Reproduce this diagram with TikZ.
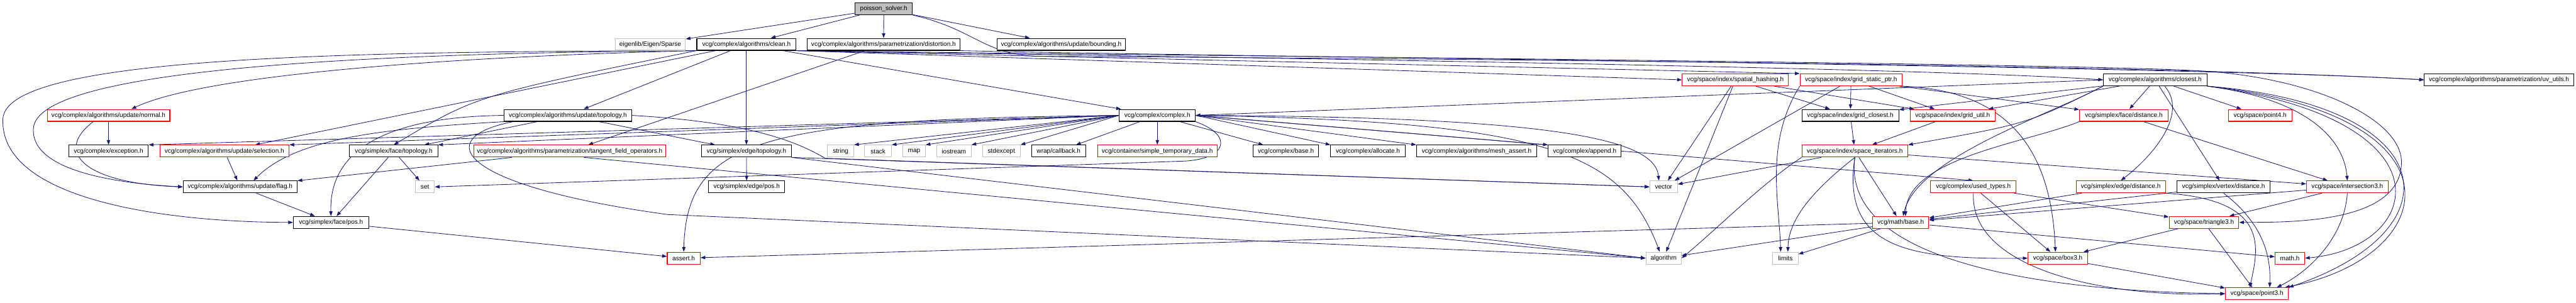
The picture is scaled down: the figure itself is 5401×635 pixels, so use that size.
\documentclass[tikz,border=0pt]{standalone}
\usepackage{fontspec}
\setmainfont{Liberation Sans}
\usetikzlibrary{arrows.meta,backgrounds}

\begin{document}
\begin{tikzpicture}[x=1pt,y=-1pt,
  file/.style={draw=black,line width=1.4pt,fill=white,minimum height=25pt,inner sep=0pt,font=\fontsize{13.3}{16}\selectfont},
  trunc/.style={file,draw=truncred},
  sys/.style={file,draw=sysgray},
  root/.style={file,fill=sysgray},
  dep/.style={draw=edgeblue,line width=1.1pt,-{Triangle[length=10pt,width=7pt]}}]

% Define colors
\definecolor{edgeblue}{HTML}{191970}
\definecolor{truncred}{HTML}{FF0000}
\definecolor{sysgray}{HTML}{BFBFBF}

\useasboundingbox (0,0) rectangle (5401,635);

% Draw the files, row by row
\node[root,minimum width=120pt] (P) at (1853,18.5) {poisson\_solver.h};

\node[sys,minimum width=147pt] (SP) at (1363.5,93) {eigenlib/Eigen/Sparse};
\node[file,minimum width=208pt] (CL) at (1565,93) {vcg/complex/algorithms/clean.h};
\node[file,minimum width=321pt] (DI) at (1852.5,93) {vcg/complex/algorithms/parametrization/distortion.h};
\node[file,minimum width=270pt] (BO) at (2225,93) {vcg/complex/algorithms/update/bounding.h};

\node[trunc,minimum width=223pt] (SH) at (3638.5,167.5) {vcg/space/index/spatial\_hashing.h};
\node[trunc,minimum width=214pt] (GS) at (3881,167.5) {vcg/space/index/grid\_static\_ptr.h};
\node[file,minimum width=217pt] (CO) at (4518.5,167.5) {vcg/complex/algorithms/closest.h};
\node[file,minimum width=313pt] (UV) at (5239.5,167.5) {vcg/complex/algorithms/parametrization/uv\_utils.h};

\node[trunc,minimum width=257pt] (NO) at (227.5,242) {vcg/complex/algorithms/update/normal.h};
\node[file,minimum width=267pt] (UT) at (1190.5,242) {vcg/complex/algorithms/update/topology.h};
\node[file,minimum width=159pt] (CX) at (2426.5,242) {vcg/complex/complex.h};
\node[file,minimum width=203pt] (GC) at (3879.5,242) {vcg/space/index/grid\_closest.h};
\node[trunc,minimum width=178pt] (GU) at (4094,242) {vcg/space/index/grid\_util.h};
\node[trunc,minimum width=186pt] (FD) at (4453,242) {vcg/simplex/face/distance.h};
\node[trunc,minimum width=133pt] (P4) at (4738.5,242) {vcg/space/point4.h};

\node[file,minimum width=167pt] (EX) at (227.5,317) {vcg/complex/exception.h};
\node[trunc,minimum width=271pt] (SE) at (470.5,317) {vcg/complex/algorithms/update/selection.h};
\node[file,minimum width=185pt] (FT) at (825.5,317) {vcg/simplex/face/topology.h};
\node[trunc,minimum width=403pt] (TF) at (1194.5,317) {vcg/complex/algorithms/parametrization/tangent\_field\_operators.h};
\node[file,minimum width=188pt] (ET) at (1565,317) {vcg/simplex/edge/topology.h};
\node[sys,minimum width=55pt] (STR) at (1762.5,317) {string};
\node[sys,minimum width=56pt] (STK) at (1841,317) {stack};
\node[sys,minimum width=47pt] (MAP) at (1916.5,317) {map};
\node[sys,minimum width=72pt] (IOS) at (2000,317) {iostream};
\node[sys,minimum width=79pt] (SEX) at (2099.5,317) {stdexcept};
\node[file,minimum width=113pt] (CB) at (2219.5,317) {wrap/callback.h};
\node[trunc,minimum width=251pt] (STD) at (2426.5,317) {vcg/container/simple\_temporary\_data.h};
\node[file,minimum width=138pt] (CB2) at (2696,317) {vcg/complex/base.h};
\node[file,minimum width=156pt] (AL) at (2868,317) {vcg/complex/allocate.h};
\node[file,minimum width=252pt] (MA) at (3096,317) {vcg/complex/algorithms/mesh\_assert.h};
\node[file,minimum width=153pt] (AP) at (3322.5,317) {vcg/complex/append.h};
\node[trunc,minimum width=222pt] (SI) at (3889,317) {vcg/space/index/space\_iterators.h};

\node[file,minimum width=239pt] (FL) at (503.5,392) {vcg/complex/algorithms/update/flag.h};
\node[sys,minimum width=40pt] (SET) at (891,392) {set};
\node[file,minimum width=159pt] (EP) at (1565.5,392) {vcg/simplex/edge/pos.h};
\node[sys,minimum width=58pt] (VEC) at (3488,392) {vector};
\node[trunc,minimum width=179pt] (UTY) at (4137.5,392) {vcg/complex/used\_types.h};
\node[trunc,minimum width=187pt] (ED) at (4446.5,392) {vcg/simplex/edge/distance.h};
\node[file,minimum width=196pt] (VD) at (4662,392) {vcg/simplex/vertex/distance.h};
\node[trunc,minimum width=171pt] (IN) at (4921.5,392) {vcg/space/intersection3.h};

\node[file,minimum width=158pt] (FP) at (694,466.5) {vcg/simplex/face/pos.h};
\node[trunc,minimum width=118pt] (MB) at (3985,466.5) {vcg/math/base.h};
\node[trunc,minimum width=146pt] (TR) at (4621,466.5) {vcg/space/triangle3.h};

\node[trunc,minimum width=69pt] (AS) at (1433.5,541.5) {assert.h};
\node[sys,minimum width=74pt] (ALG) at (3488,541.5) {algorithm};
\node[sys,minimum width=53pt] (LIM) at (3743.5,541.5) {limits};
\node[trunc,minimum width=125pt] (B3) at (4314.5,541.5) {vcg/space/box3.h};
\node[trunc,minimum width=62pt] (MH) at (4801,541.5) {math.h};

\node[trunc,minimum width=132pt] (P3) at (4732,616) {vcg/space/point3.h};

\begin{pgfonlayer}{background}
% Draw the straight includes
\foreach \a/\b in {P/SP,P/CL,P/DI,P/BO,CL/SE,CL/UT,CL/ET,CL/CX,DI/TF,NO/EX,SE/FL,FT/SET,FT/FP,
    ET/EP,FL/FP,FP/AS,UT/ET,UT/FT,TF/FL,CX/CB,CX/STD,CX/CB2,SH/GC,SH/GU,SH/VEC,SH/ALG,
    GS/GC,GS/GU,GS/FD,GS/VEC,CO/GC,CO/GU,CO/FD,CO/P4,CO/VD,FD/IN,GC/SI,GU/SI,SI/VEC,SI/MB,
    SI/IN,UTY/TR,UTY/B3,ED/MB,VD/MB,IN/MB,IN/TR,MB/AS,MB/ALG,MB/LIM,MB/MH,TR/P3,TR/B3,B3/P3}
  \draw[dep] (\a) -- (\b);

% Draw the includes of complex.h towards its corners
\foreach \b in {EX,SE,FT,STR,STK,MAP,IOS,SEX}
  \draw[dep] (CX.west) -- (\b.north east);
\foreach \b in {AL,MA,AP}
  \draw[dep] (CX.east) -- (\b.north west);
\draw[dep] (CX.east) -- (UTY.north);
\draw[dep] (CO.west) -- (CX.east);
\draw[dep] (ET.south east) -- (VEC.west);
\draw[dep] (ET.south east) -- (ALG.west);
\draw[dep] ([xshift=30pt]TF.south) -- (ALG.west);
\draw[dep] (CL.south east) -- (SH.west);
\draw[dep] (CL.south east) -- (GS.north west);

% Draw the long curved includes
\draw[dep] (P.south east) .. controls (2040,60) and (2060,112) .. (2170,118)
  .. controls (3500,126) and (4600,140) .. (UV.west);
\draw[dep] (DI.south east) .. controls (2500,118) and (4600,138) .. (UV.west);
\draw[dep] (CL.south east) .. controls (2400,118) and (4000,140) .. (CO.west);
\draw[dep] (CL.south east) .. controls (2400,116) and (4300,132) .. (4600,148)
  .. controls (4850,160) and (5035,250) .. (5035,340)
  .. controls (5035,470) and (4800,466) .. (TR.east);
\draw[dep] (CL.south west) .. controls (900,120) and (420,160) .. ([xshift=48pt]NO.north);
\draw[dep] (CL.south west) .. controls (1000,200) .. (FT.north);
\draw[dep] (CL.south west) .. controls (700,112) and (75,150) .. (70,270)
  .. controls (65,360) and (250,385) .. (FL.west);
\draw[dep] (CL.south west) .. controls (700,108) and (10,120) .. (6,250)
  .. controls (0,420) and (350,466) .. (FP.west);
\draw[dep] ([xshift=-32pt]NO.south) .. controls (110,320) and (180,385) .. (FL.west);
\draw[dep] (UT.west) .. controls (800,245) and (690,320) .. (FP.north);
\draw[dep] (UT.south west) .. controls (800,270) and (620,290) .. ([xshift=28pt]FL.north);
\draw[dep] ([xshift=-115pt]UT.south) .. controls (900,290) and (960,390) .. (1400,450) -- (ALG.west);
\draw[dep] (UT.east) .. controls (1550,255) and (1660,290) .. (1730,332) -- (VEC.west);
\draw[dep] (CX.west) .. controls (1600,250) and (1440,290) .. (AS.north);
\draw[dep] (CX.south east) .. controls (2590,285) and (2570,335) .. (2480,338) -- (SET.east);
\draw[dep] (CX.east) .. controls (3250,255) and (3400,320) .. ([xshift=-8pt]ALG.north);
\draw[dep] (CX.east) .. controls (3250,245) and (3470,290) .. ([xshift=-10pt]VEC.north);
\draw[dep] (CO.south west) .. controls (4250,260) .. (SI.north east);
\draw[dep] ([xshift=20pt]CO.south) .. controls (4590,240) and (4510,330) .. (ED.north);
\draw[dep] (CO.south west) .. controls (4300,240) and (4020,330) .. ([xshift=5pt]MB.north);
\draw[dep] (FD.south west) .. controls (4250,300) and (4000,330) .. ([xshift=10pt]MB.north);
\draw[dep] (GS.south east) .. controls (4200,190) and (4300,300) .. ([xshift=-5pt]B3.north);
\draw[dep] (GS.south west) .. controls (3700,300) and (3730,420) .. ([xshift=-10pt]LIM.north);
\draw[dep] (CO.south east) .. controls (4850,210) and (4915,300) .. (IN.north);
\draw[dep] (CO.south east) .. controls (5150,250) and (5080,520) .. (MH.east);
\draw[dep] (CO.south east) .. controls (5180,240) and (5120,540) .. ([xshift=-8pt]P3.north east);
\draw[dep] (CO.south east) .. controls (5120,220) and (5160,480) .. (P3.north east);
\draw[dep] (IN.south) .. controls (4915,500) and (4840,570) .. ([xshift=-25pt]P3.north east);
\draw[dep] (VD.south) .. controls (4760,480) and (4760,560) .. ([xshift=-40pt]P3.north east);
\draw[dep] (ED.south east) .. controls (4760,420) and (4735,520) .. ([xshift=-15pt]P3.north);
\draw[dep] (SI.south) .. controls (3860,540) and (4250,610) .. (P3.west);
\draw[dep] (SI.south) .. controls (3860,520) and (4000,545) .. (B3.west);
\draw[dep] (SI.south) .. controls (3800,400) and (3750,460) .. ([xshift=5pt]LIM.north);
\draw[dep] (SI.south west) .. controls (3700,380) and (3600,480) .. (ALG.east);
\draw[dep] (UTY.south) .. controls (4130,560) and (4400,625) .. (P3.west);
\end{pgfonlayer}

\end{tikzpicture}
\end{document}
